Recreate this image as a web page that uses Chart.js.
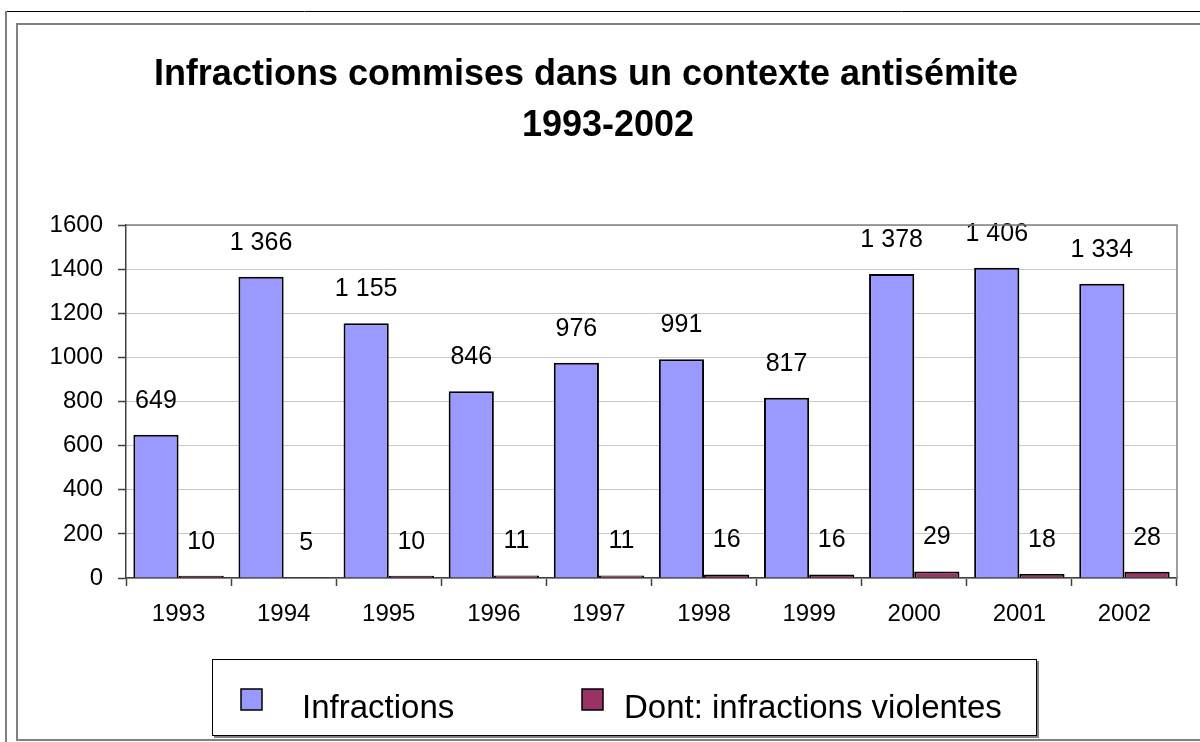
<!DOCTYPE html>
<html>
<head>
<meta charset="utf-8">
<script src="https://cdn.jsdelivr.net/npm/chart.js@4.4.0/dist/chart.umd.min.js"></script>
<style>
  body { margin: 0; background: #fff; }
  #wrap { position: absolute; left: 0; top: 0; width: 1200px; height: 742px; }
</style>
</head>
<body>
<div id="wrap"><canvas id="myChart" width="1200" height="742"></canvas></div>
<script>
// Data
const years = ["1993", "1994", "1995", "1996", "1997", "1998", "1999", "2000", "2001", "2002"];
const infractions = [649, 1366, 1155, 846, 976, 991, 817, 1378, 1406, 1334];
const violentes = [10, 5, 10, 11, 11, 16, 16, 29, 18, 28];
const seriesNames = ["Infractions", "Dont: infractions violentes"];
const seriesColors = ["#9999FF", "#993366"];
const titleLines = ["Infractions commises dans un contexte antisémite", "1993-2002"];

const FONT = "'Liberation Sans', Arial, sans-serif";

function frNumber(v) {
    return String(v).replace(/\B(?=(\d{3})+(?!\d))/g, " ");
}

// frames, title, plot border, legend
const decor = {
    id: "decor",
    beforeDraw(chart) {
        const ctx = chart.ctx;
        ctx.save();
        ctx.fillStyle = "#fff";
        ctx.fillRect(0, 0, chart.width, chart.height);
        // outer frame
        ctx.strokeStyle = "#000";
        ctx.lineWidth = 1;
        ctx.beginPath();
        ctx.moveTo(6, 11.5); ctx.lineTo(1200, 11.5);
        ctx.stroke();
        ctx.strokeStyle = "#808080";
        ctx.lineWidth = 2;
        ctx.beginPath();
        ctx.moveTo(6, 11); ctx.lineTo(6, 742);
        ctx.stroke();
        // inner frame
        ctx.beginPath();
        ctx.moveTo(1200, 24); ctx.lineTo(17, 24); ctx.lineTo(17, 740); ctx.lineTo(1200, 740);
        ctx.stroke();

        // title
        ctx.fillStyle = "#000";
        ctx.font = "bold 36px " + FONT;
        ctx.textAlign = "center";
        ctx.textBaseline = "alphabetic";
        ctx.fillText(titleLines[0], 586, 85);
        ctx.fillText(titleLines[1], 608, 136);
        ctx.restore();
    },
    afterDraw(chart) {
        const ctx = chart.ctx;
        const a = chart.chartArea;
        ctx.save();
        // right and top border of plot area
        ctx.strokeStyle = "#808080";
        ctx.lineWidth = 1.5;
        ctx.beginPath();
        ctx.moveTo(a.left, a.top); ctx.lineTo(a.right, a.top); ctx.lineTo(a.right, a.bottom);
        ctx.stroke();

        // legend box
        ctx.fillStyle = "#808080";
        ctx.fillRect(214, 736, 825, 2);
        ctx.fillRect(1037, 661, 2, 77);
        ctx.fillStyle = "#fff";
        ctx.fillRect(212, 659, 825, 77);
        ctx.strokeStyle = "#000";
        ctx.lineWidth = 1;
        ctx.strokeRect(212.5, 659.5, 824, 76);

        const boxX = [241, 582];
        const textX = [302, 624];
        ctx.font = "33px " + FONT;
        ctx.textAlign = "left";
        ctx.textBaseline = "alphabetic";
        chart.data.datasets.forEach((ds, i) => {
            ctx.fillStyle = ds.backgroundColor;
            ctx.fillRect(boxX[i], 689, 21, 21);
            ctx.strokeStyle = "#000";
            ctx.lineWidth = 1.5;
            ctx.strokeRect(boxX[i], 689, 21, 21);
            ctx.fillStyle = "#000";
            ctx.fillText(ds.label, textX[i], 718);
        });
        ctx.restore();
    }
};

// value labels above the bars
const valueLabels = {
    id: "valueLabels",
    afterDatasetsDraw(chart) {
        const ctx = chart.ctx;
        ctx.save();
        ctx.font = "25px " + FONT;
        ctx.fillStyle = "#000";
        ctx.textAlign = "center";
        ctx.textBaseline = "middle";
        chart.data.datasets.forEach((ds, i) => {
            chart.getDatasetMeta(i).data.forEach((bar, j) => {
                ctx.fillText(frNumber(ds.data[j]), bar.x, bar.y - 34);
            });
        });
        ctx.restore();
    }
};

new Chart("myChart", {
    type: "bar",
    data: {
        labels: years,
        datasets: [{
            label: seriesNames[0],
            data: infractions,
            backgroundColor: seriesColors[0],
            borderColor: "#000",
            borderWidth: 2,
            categoryPercentage: 0.86,
            barPercentage: 1.0
        },
        {
            label: seriesNames[1],
            data: violentes,
            backgroundColor: seriesColors[1],
            borderColor: "#000",
            borderWidth: 2,
            categoryPercentage: 0.86,
            barPercentage: 1.0
        }]
    },
    options: {
        responsive: false,
        animation: false,
        layout: {
            padding: { top: 225, right: 23, bottom: 0, left: 0 }
        },
        scales: {
            x: {
                afterFit: (s) => { s.height = 164; },
                grid: {
                    offset: true,
                    drawOnChartArea: false,
                    tickLength: 8,
                    tickColor: "#404040",
                    tickWidth: 1.5
                },
                border: { color: "#404040", width: 1.5 },
                ticks: {
                    color: "#000",
                    padding: 14,
                    font: { family: FONT, size: 24 }
                }
            },
            y: {
                min: 0,
                max: 1600,
                afterFit: (s) => { s.width = 126; },
                grid: {
                    color: "#c8c8c8",
                    lineWidth: 1,
                    tickLength: 8,
                    tickColor: "#404040",
                    tickWidth: 1.5
                },
                border: { color: "#404040", width: 1.5 },
                ticks: {
                    stepSize: 200,
                    color: "#000",
                    padding: 15,
                    font: { family: FONT, size: 24 },
                    callback: (v) => String(v)
                }
            }
        },
        plugins: {
            legend: { display: false },
            title: { display: false },
            tooltip: { enabled: false }
        }
    },
    plugins: [decor, valueLabels]
});
</script>
</body>
</html>
